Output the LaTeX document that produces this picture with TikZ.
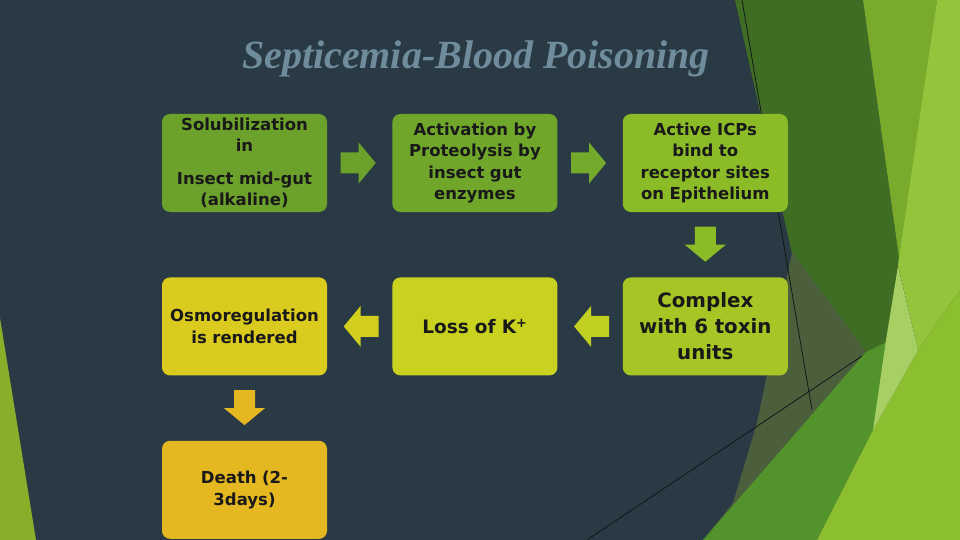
\documentclass[tikz,border=0pt]{standalone}
\usepackage{fontspec}
\setmainfont{Liberation Serif}
\setsansfont{DejaVu Sans}
\usepackage{tikz}
\usetikzlibrary{positioning,calc}

\definecolor{slate}{HTML}{2A3A44}
\definecolor{titlegray}{HTML}{6E8C9B}
\definecolor{leafdark}{HTML}{3F6D24}
\definecolor{leafmid}{HTML}{79AA2B}
\definecolor{leaflight}{HTML}{93C43B}
\definecolor{leafpale}{HTML}{A7CF63}
\definecolor{leafgrey}{HTML}{4C5F3D}
\definecolor{leafdeep}{HTML}{52932B}
\definecolor{leafbright}{HTML}{8CBF30}
\definecolor{sliver}{HTML}{87AF2A}
\definecolor{boxA}{HTML}{6CA22B}
\definecolor{boxB}{HTML}{70A72B}
\definecolor{boxC}{HTML}{8CBB28}
\definecolor{boxD}{HTML}{DCCB1F}
\definecolor{boxE}{HTML}{C8D21F}
\definecolor{boxF}{HTML}{A7C524}
\definecolor{boxG}{HTML}{E5B821}

\tikzset{
  stepbox/.style={rounded corners=8pt, minimum width=165pt, minimum height=98pt,
    text width=162pt, align=center, inner sep=0pt, text=black!90,
    font=\sffamily\bfseries\fontsize{16.5}{21.5}\selectfont}
}

% block arrow: direction, centre, colour
\newcommand{\flowarrow}[3]{%
  \fill[#3, shift={(#2)}, rotate=#1] (-18,-10.5) -- (0,-10.5) -- (0,-20.5) -- (17,0)
    -- (0,20.5) -- (0,10.5) -- (-18,10.5) -- cycle;}

\begin{document}
\begin{tikzpicture}[x=1pt,y=-1pt]
  \fill[slate] (0,0) rectangle (960,540);
  \useasboundingbox (0,0) rectangle (960,540);
  % background facets
  \fill[leafdark] (735,0) -- (863,0) -- (900,265) -- (875,435) -- (830,470) -- (793,258) -- cycle;
  \fill[leafmid] (863,0) -- (937,0) -- (900,265) -- cycle;
  \fill[leaflight] (937,0) -- (960,0) -- (960,290) -- (918,350) -- (898,265) -- cycle;
  \fill[leafgrey] (792,252) -- (866,352) -- (703,540) -- (733,503) -- (757,423) -- cycle;
  \fill[leafdeep] (703,540) -- (866,352) -- (895,338) -- (873,430) -- (817,540) -- cycle;
  \fill[leafbright] (817,540) -- (873,430) -- (918,350) -- (960,290) -- (960,540) -- cycle;
  \fill[leafpale] (898,266) -- (918,350) -- (873,430) -- (886,340) -- cycle;
  \draw[black!70!slate, line width=0.7pt] (742,0) -- (812,410);
  \draw[black!70!slate, line width=0.7pt] (587,540) -- (862,356);
  \fill[sliver] (0,318) -- (36,540) -- (0,540) -- cycle;

  \node[titlegray, font=\fontsize{40}{42}\selectfont\bfseries\itshape] (title) at (476,59) {Septicemia-Blood Poisoning};

  \node[stepbox, fill=boxA] (sol) at (244.5,163) {Solubilization\\in\\[11pt]Insect mid-gut\\(alkaline)};
  \node[stepbox, fill=boxB, right=65pt of sol] (act) {Activation by\\Proteolysis by\\insect gut\\enzymes};
  \node[stepbox, fill=boxC, right=65pt of act] (bind) {Active ICPs\\bind to\\receptor sites\\on Epithelium};
  \node[stepbox, fill=boxF, below=65pt of bind, font=\sffamily\bfseries\fontsize{19.8}{26}\selectfont] (cplx) {Complex\\with 6 toxin\\units};
  \node[stepbox, fill=boxE, below=65pt of act, font=\sffamily\bfseries\fontsize{18.5}{24}\selectfont] (loss) {Loss of K\textsuperscript{+}};
  \node[stepbox, fill=boxD, below=65pt of sol] (osmo) {Osmoregulation\\is rendered};
  \node[stepbox, fill=boxG, below=65pt of osmo] (death) {Death (2-\\3days)};

  \flowarrow{0}{$(sol.east)!0.5!(act.west)+(-1,0)$}{boxA}
  \flowarrow{0}{$(act.east)!0.5!(bind.west)+(-1,0)$}{boxB!85!boxC}
  \flowarrow{-90}{$(bind.south)!0.5!(cplx.north)$}{boxC}
  \flowarrow{180}{$(cplx.west)!0.5!(loss.east)+(1,0)$}{boxE!80!boxF}
  \flowarrow{180}{$(loss.west)!0.5!(osmo.east)+(1,0)$}{boxD!50!boxE}
  \flowarrow{-90}{$(osmo.south)!0.5!(death.north)$}{boxG}
\end{tikzpicture}
\end{document}
